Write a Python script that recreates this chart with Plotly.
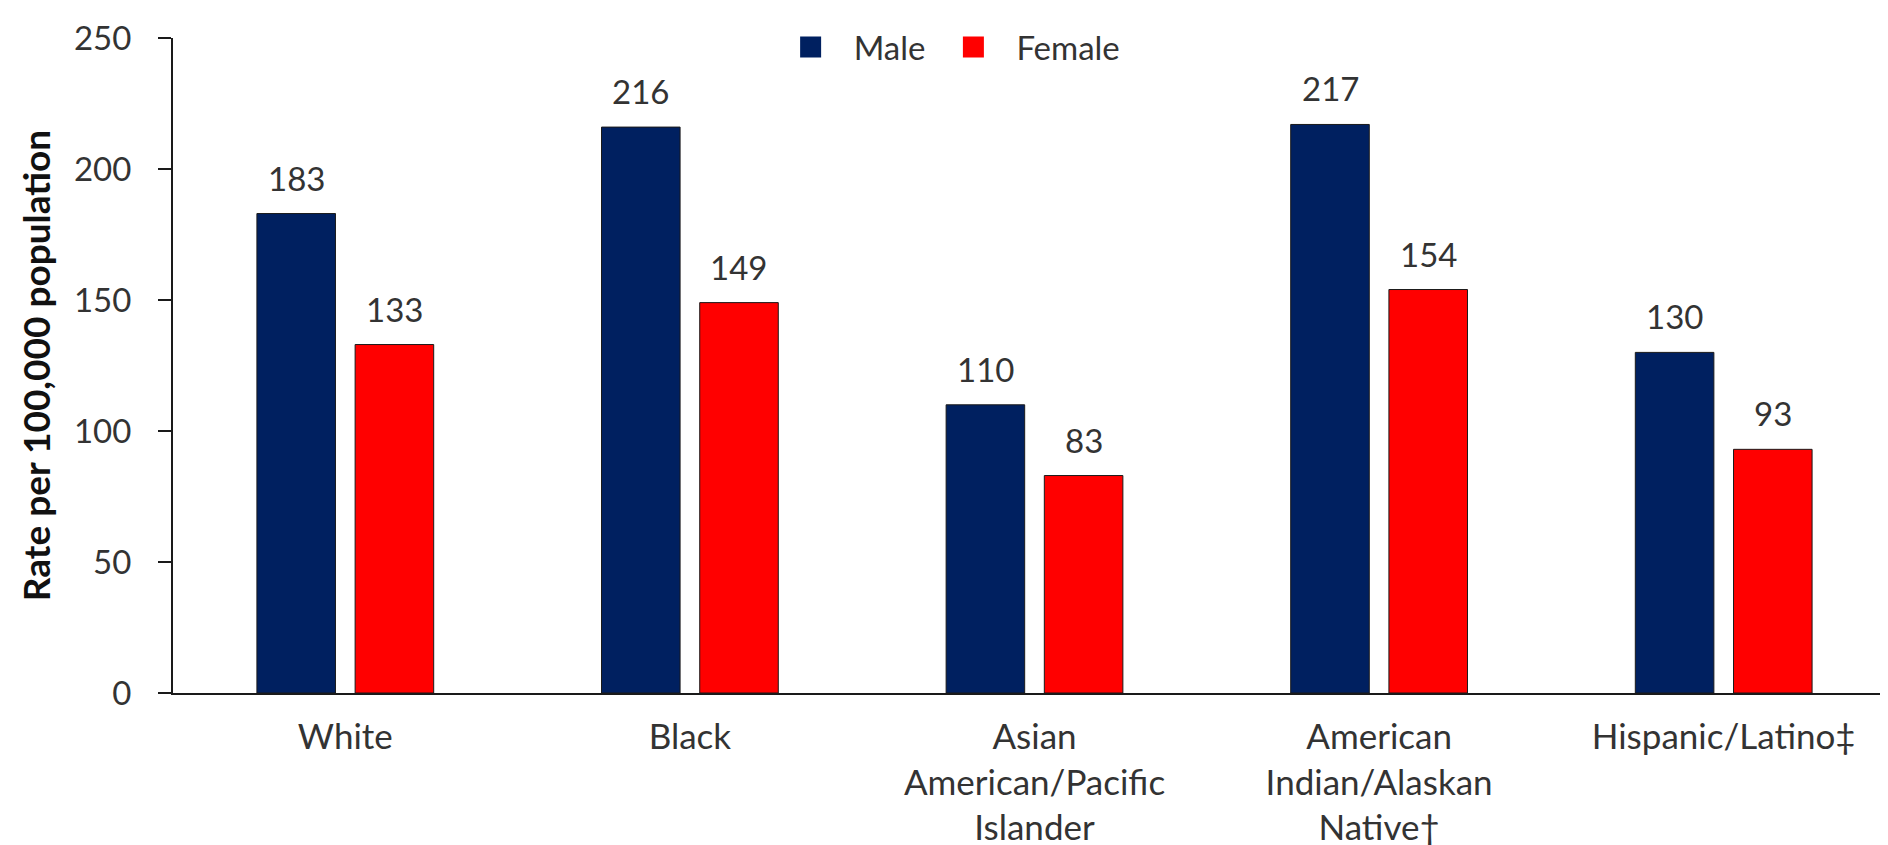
import plotly.graph_objects as go

categories = ["White", "Black", "Asian<br>American/Pacific<br>Islander",
              "American<br>Indian/Alaskan<br>Native†", "Hispanic/Latino‡"]
male = [183, 216, 110, 217, 130]
female = [133, 149, 83, 154, 93]
y_ticks = [0, 50, 100, 150, 200, 250]

MALE_C = "#002060"
FEMALE_C = "#FF0000"
TXT = "#333333"
FONT = "Lato"
FS_LBL = 33
FS_TICK = 33
FS_CAT = 35
FS_LEG = 33

fig = go.Figure()
fig.add_trace(go.Bar(x=categories, y=male, name="Male",
                     marker=dict(color=MALE_C, line=dict(color="#1a1a1a", width=1)),
                     showlegend=False))
fig.add_trace(go.Bar(x=categories, y=female, name="Female",
                     marker=dict(color=FEMALE_C, line=dict(color="#1a1a1a", width=1)),
                     showlegend=False))
# legend proxies
fig.add_trace(go.Scatter(x=[None], y=[None], mode="markers", name="Male",
                         marker=dict(symbol="square", size=16, color=MALE_C,
                                     line=dict(color=MALE_C, width=5))))
fig.add_trace(go.Scatter(x=[None], y=[None], mode="markers", name="Female",
                         marker=dict(symbol="square", size=16, color=FEMALE_C,
                                     line=dict(color=FEMALE_C, width=5))))

off = 49
for cat, m, f in zip(categories, male, female):
    fig.add_annotation(x=cat, y=m, text=str(m), showarrow=False, xshift=-off, yshift=14,
                       yanchor="bottom", font=dict(family=FONT, size=FS_LBL, color=TXT))
    fig.add_annotation(x=cat, y=f, text=str(f), showarrow=False, xshift=off, yshift=14,
                       yanchor="bottom", font=dict(family=FONT, size=FS_LBL, color=TXT))

fig.update_layout(
    width=1888, height=845,
    margin=dict(l=165, r=0, t=30, b=160),
    paper_bgcolor="white", plot_bgcolor="white",
    barmode="group", bargap=0.43, bargroupgap=0.2,
    font=dict(family=FONT, size=FS_TICK, color=TXT),
    legend=dict(orientation="h", x=0.449, xanchor="center", y=0.986, yanchor="middle",
                itemwidth=76,
                font=dict(family=FONT, size=FS_LEG, color=TXT), bgcolor="rgba(0,0,0,0)"),
    xaxis=dict(range=[-0.5, 4.5], showline=True, linecolor="#1a1a1a", linewidth=2,
               ticks="", showgrid=False, tickfont=dict(family=FONT, size=FS_CAT, color=TXT),
               ticklabelstandoff=12),
    yaxis=dict(range=[0, 250], tickvals=y_ticks, showline=True, linecolor="#1a1a1a", linewidth=2,
               ticks="outside", ticklen=13, tickcolor="#1a1a1a", tickwidth=2, showgrid=False,
               zeroline=False, tickfont=dict(family=FONT, size=FS_TICK, color=TXT),
               ticklabelstandoff=20,
               title=dict(text="<b>Rate per 100,000 population</b>", standoff=12,
                          font=dict(family=FONT, size=37, color="#111111"))),
)

fig.write_html("out.html")
